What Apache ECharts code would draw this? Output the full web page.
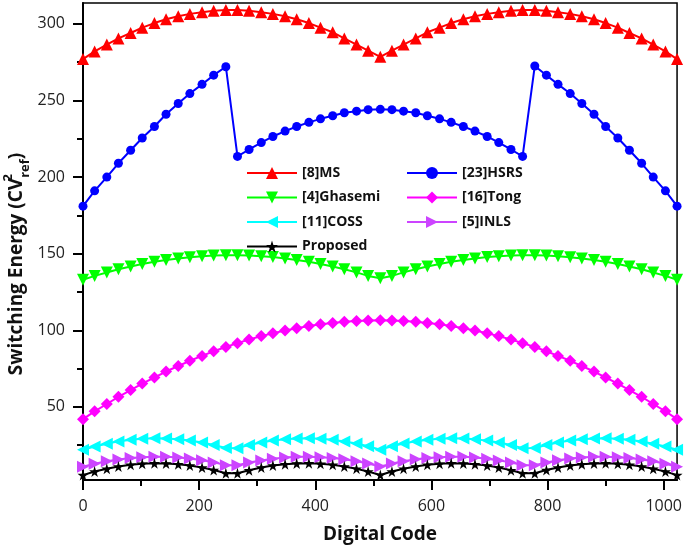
<!DOCTYPE html>
<html><head><meta charset="utf-8">
<script src="https://cdn.jsdelivr.net/npm/echarts@6/dist/echarts.min.js"></script>
<style>html,body{margin:0;padding:0;background:#fff}#c{width:685px;height:549px}</style>
</head><body><div id="c"></div>
<script>
const codes = [0,20,41,61,82,102,123,143,164,184,205,225,246,266,286,307,327,348,368,389,409,430,450,471,491,512,532,552,573,593,614,634,655,675,696,716,737,757,778,798,818,839,859,880,900,921,941,962,982,1003,1023];
const msE = [277,282,286.5,290.5,294,297.5,300.5,303,305,306.5,307.5,308.5,309,309,308.5,307.5,306.5,305,303,300.5,297.5,294.5,290.5,286.5,282.5,278.5,282.5,286.5,290.5,294.5,297.5,300.5,303,305,306.5,307.5,308.5,309,309,308.5,307.5,306.5,305,303,300.5,297.5,294,290.5,286.5,282,277];
const hsrsE = [181,191,200,209,217.5,225.5,233,241,248,254.5,260.5,266.5,272,213.5,218,222.5,226.5,230,233,235.7,238,240,242,243,244,244.2,244,243,242,240,238,235.7,233,230,226.5,222.5,218,213.5,272.5,266.5,260.5,254.5,248,241,233,225.5,217.5,209,200,191,181];
const ghasemiE = [133,135.5,137.7,139.8,141.6,143.2,144.7,145.9,146.9,147.7,148.4,148.8,149,149,148.8,148.4,147.8,146.9,145.9,144.7,143.3,141.6,139.8,137.8,135.5,134,135.5,137.8,139.8,141.6,143.3,144.7,145.9,146.9,147.8,148.4,148.8,149,149,148.8,148.4,147.7,146.9,145.9,144.7,143.2,141.6,139.8,137.7,135.5,133];
const tongE = [42,47.1,51.9,56.6,61,65.2,69.2,73.1,76.7,80.1,83.3,86.3,89.1,91.6,94,96.2,98.1,99.9,101.4,102.8,103.9,104.8,105.6,106.1,106.4,106.5,106.4,106.1,105.6,104.8,103.9,102.8,101.4,99.9,98.1,96.2,94,91.6,89.1,86.3,83.3,80.1,76.7,73.1,69.2,65.2,61,56.6,51.9,47.1,42];
const cossE = [22,24.2,26.0,27.5,28.5,29.2,29.5,29.4,28.9,28.1,26.8,25.2,23.2,23.1,25.1,26.8,28.0,28.9,29.4,29.5,29.2,28.5,27.5,26.1,24.3,22.1,24.3,26.1,27.5,28.5,29.2,29.5,29.4,28.9,28.0,26.8,25.1,23.1,23.2,25.2,26.8,28.1,28.9,29.4,29.5,29.2,28.5,27.5,26.0,24.2,22];
const inlsE = [11,12.9,14.5,15.7,16.7,17.2,17.5,17.4,17.0,16.3,15.2,13.8,12.0,12.0,13.7,15.1,16.2,17.0,17.4,17.5,17.2,16.7,15.8,14.5,13.0,11.1,13.0,14.5,15.8,16.7,17.2,17.5,17.4,17.0,16.2,15.1,13.7,12.0,12.0,13.8,15.2,16.3,17.0,17.4,17.5,17.2,16.7,15.7,14.5,12.9,11];
const proposedE = [5.5,7.8,9.6,11.1,12.2,12.9,13.2,13.1,12.6,11.7,10.4,8.8,6.7,6.7,8.7,10.4,11.7,12.6,13.1,13.2,12.9,12.2,11.1,9.7,7.8,5.6,7.8,9.7,11.1,12.2,12.9,13.2,13.1,12.6,11.7,10.4,8.7,6.7,6.7,8.8,10.4,11.7,12.6,13.1,13.2,12.9,12.2,11.1,9.6,7.8,5.5];

const xMajor = [0,200,400,600,800,1000];
const xMinor = [100,300,500,700,900];
const yMajor = [50,100,150,200,250,300];
const yMinor = [25,75,125,175,225,275];

const FONT = 'Open Sans';
const STAR = 'path://M50,0 L61,35 L98,35 L68,57 L79,91 L50,70 L21,91 L32,57 L2,35 L39,35 Z';

function mk(name, arr, color, symbol, size, rot) {
  return {
    name: name, type: 'line', xAxisIndex: 0, yAxisIndex: 0,
    data: codes.map((c, i) => [c, arr[i]]),
    symbol: symbol, symbolSize: size, symbolRotate: rot || 0,
    showAllSymbol: true,
    lineStyle: { color: color, width: 2 },
    itemStyle: { color: color },
    animation: false
  };
}

const chart = echarts.init(document.getElementById('c'), null, { renderer: 'canvas' });
const XMIN = 0, XMAX = 1023, YMIN = 2.3, YMAX = 313.6;
const axisLine = { show: true, lineStyle: { color: '#000', width: 2 } };
const legendText = { fontFamily: FONT, fontSize: 14, fontWeight: 'bold', color: '#111' };
const option = {
  backgroundColor: '#fff',
  animation: false,
  grid: { left: 83, right: 7, top: 3, bottom: 67, show: true, borderColor: '#000', borderWidth: 1.5, backgroundColor: 'transparent' },
  xAxis: [
    { type: 'value', min: XMIN, max: XMAX, position: 'bottom', axisLine: axisLine,
      axisTick: { show: true, customValues: xMajor, length: 10, lineStyle: { color: '#000', width: 2 } },
      axisLabel: { customValues: xMajor, margin: 18, fontFamily: FONT, fontSize: 16, color: '#222', formatter: v => String(v) },
      splitLine: { show: false },
      name: 'Digital Code', nameLocation: 'middle', nameGap: 45,
      nameTextStyle: { fontFamily: FONT, fontSize: 19, fontWeight: 'bold', color: '#111' } },
    { type: 'value', min: XMIN, max: XMAX, position: 'bottom', axisLine: { show: false },
      axisTick: { show: true, customValues: xMinor, length: 6, lineStyle: { color: '#000', width: 2 } },
      axisLabel: { show: false }, splitLine: { show: false } }
  ],
  yAxis: [
    { type: 'value', min: YMIN, max: YMAX, position: 'left', axisLine: axisLine,
      axisTick: { show: true, customValues: yMajor, length: 10, lineStyle: { color: '#000', width: 2 } },
      axisLabel: { customValues: yMajor, margin: 18, fontFamily: FONT, fontSize: 16, color: '#222', formatter: v => String(v) },
      splitLine: { show: false } },
    { type: 'value', min: YMIN, max: YMAX, position: 'left', axisLine: { show: false },
      axisTick: { show: true, customValues: yMinor, length: 6, lineStyle: { color: '#000', width: 2 } },
      axisLabel: { show: false }, splitLine: { show: false } }
  ],
  legend: [
    { data: ['[8]MS', '[4]Ghasemi', '[11]COSS', 'Proposed'], orient: 'vertical', left: 246, top: 166,
      itemWidth: 50, itemHeight: 15, itemGap: 10.5, padding: 0, textStyle: legendText },
    { data: ['[23]HSRS', '[16]Tong', '[5]INLS'], orient: 'vertical', left: 406, top: 166,
      itemWidth: 50, itemHeight: 15, itemGap: 10.5, padding: 0, textStyle: legendText }
  ],
  graphic: [
    { type: 'text', x: 17, y: 264, rotation: Math.PI / 2,
      style: { text: '{t|Switching Energy (CV}{sup|2}{sub|ref}{t|)}', align: 'center', verticalAlign: 'middle',
        rich: {
          t: { fontFamily: FONT, fontSize: 19, fontWeight: 'bold', fill: '#111', lineHeight: 30, verticalAlign: 'middle' },
          sup: { fontFamily: FONT, fontSize: 13, fontWeight: 'bold', fill: '#111', verticalAlign: 'top', width: 0 },
          sub: { fontFamily: FONT, fontSize: 13, fontWeight: 'bold', fill: '#111', verticalAlign: 'bottom' }
        } } }
  ],
  series: [
    mk('[8]MS', msE, '#ff0000', 'triangle', 12, 0),
    mk('[23]HSRS', hsrsE, '#0000ff', 'circle', 9, 0),
    mk('[4]Ghasemi', ghasemiE, '#00ff00', 'triangle', 12, 180),
    mk('[16]Tong', tongE, '#ff00ff', 'diamond', 12, 0),
    mk('[11]COSS', cossE, '#00ffff', 'triangle', 12, 90),
    mk('[5]INLS', inlsE, '#cc44ff', 'triangle', 12, -90),
    mk('Proposed', proposedE, '#000000', STAR, 11, 0)
  ]
};
chart.setOption(option);
</script></body></html>
